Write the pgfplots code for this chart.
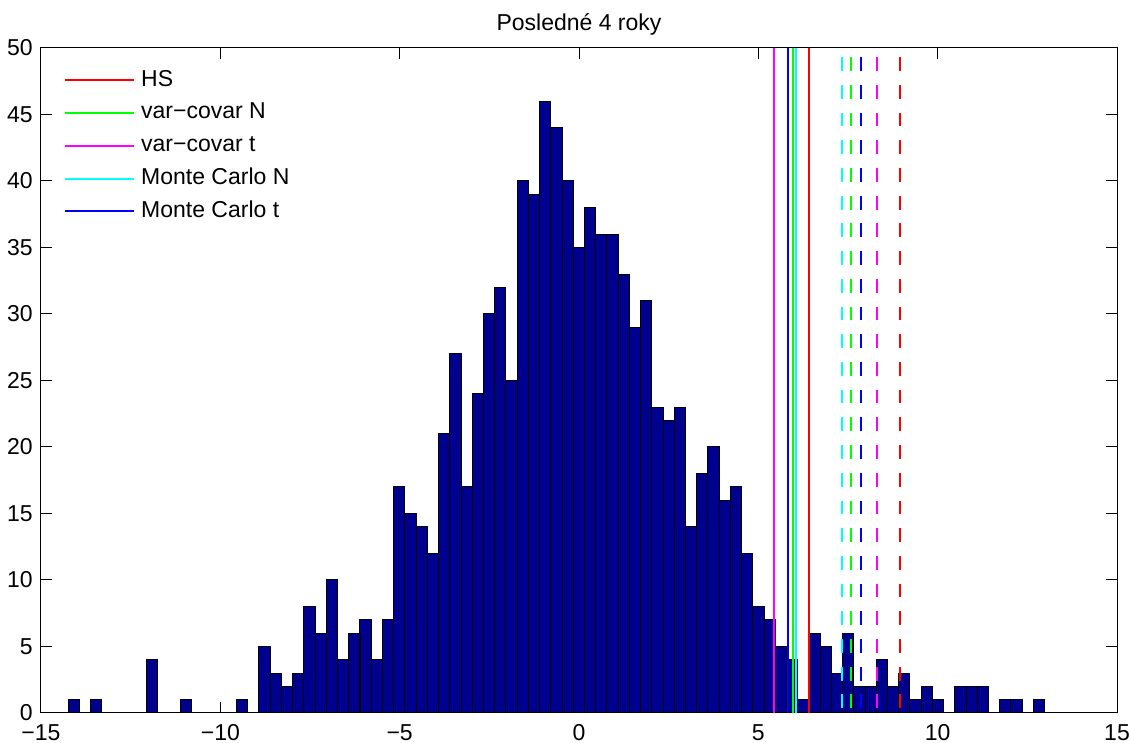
\documentclass[border=0pt]{standalone}
\usepackage{fontspec}
\setmainfont{Liberation Sans}
\usepackage{pgfplots}
\pgfplotsset{compat=1.18}
\definecolor{barblue}{rgb}{0,0,0.5608}
\definecolor{mred}{rgb}{1,0,0}
\definecolor{mgreen}{rgb}{0,1,0}
\definecolor{mmagenta}{rgb}{1,0,1}
\definecolor{mcyan}{rgb}{0,1,1}
\definecolor{mblue}{rgb}{0,0,1}
\begin{document}
\begin{tikzpicture}
\useasboundingbox (-20.5pt,-15pt) rectangle (544pt,356.5pt);
\begin{axis}[
  scale only axis, width=538pt, height=332.5pt,
  xmin=-15, xmax=15, ymin=0, ymax=50,
  xtick={-15,-10,-5,0,5,10,15},
  xticklabels={−15,−10,−5,0,5,10,15},
  ytick={0,5,10,15,20,25,30,35,40,45,50},
  yticklabels={0,5,10,15,20,25,30,35,40,45,50},
  tick align=inside, xtick pos=both, ytick pos=both,
  xticklabel pos=lower, yticklabel pos=left,
  major tick length=5.5pt,
  tick style={black, line width=0.5pt},
  axis line style={line width=0.5pt},
  font=\fontsize{11.5}{13.8}\selectfont,
  title={Posledné 4 roky},
  title style={at={(0.5,1)}, anchor=base, yshift=2.6pt, inner sep=0pt},
  xticklabel style={inner sep=0pt, yshift=-5.6pt},
  yticklabel style={inner sep=0pt, xshift=-4pt},
  legend style={at={(0,1)}, anchor=north west, xshift=11.5pt, yshift=-10.6pt,
    draw=none, fill=none, inner sep=0pt, row sep=5.7pt,
    nodes={inner sep=0pt, text height=8.3pt, text depth=2.4pt},
    /tikz/every odd column/.append style={column sep=2.9pt}},
  legend cell align=left,
  legend image code/.code={\draw[#1] (0pt,0pt) -- (34.5pt,0pt);},
]
\addplot[ybar, bar width=0.31291, fill=barblue, draw=black, line width=0.5pt, forget plot] coordinates {
(-14.085,1) (-13.772,0) (-13.459,1) (-13.147,0) (-12.834,0) (-12.521,0) (-12.208,0) (-11.895,4)
(-11.582,0) (-11.269,0) (-10.956,1) (-10.643,0) (-10.330,0) (-10.017,0) (-9.704,0) (-9.392,1)
(-9.079,0) (-8.766,5) (-8.453,3) (-8.140,2) (-7.827,3) (-7.514,8) (-7.201,6) (-6.888,10)
(-6.575,4) (-6.262,6) (-5.950,7) (-5.637,4) (-5.324,7) (-5.011,17) (-4.698,15) (-4.385,14)
(-4.072,12) (-3.759,21) (-3.446,27) (-3.133,17) (-2.820,24) (-2.507,30) (-2.195,32) (-1.882,25)
(-1.569,40) (-1.256,39) (-0.943,46) (-0.630,44) (-0.317,40) (-0.004,35) (0.309,38) (0.622,36)
(0.935,36) (1.248,33) (1.561,29) (1.874,31) (2.186,23) (2.499,22) (2.812,23) (3.125,14)
(3.438,18) (3.751,20) (4.064,16) (4.377,17) (4.690,12) (5.003,8) (5.316,7) (5.629,5)
(5.942,4) (6.255,1) (6.567,6) (6.880,5) (7.193,3) (7.506,6) (7.819,2) (8.132,2)
(8.445,4) (8.758,2) (9.071,3) (9.384,1) (9.697,2) (10.010,1) (10.322,0) (10.635,2)
(10.948,2) (11.261,2) (11.574,0) (11.887,1) (12.200,1) (12.513,0) (12.826,1)
};
\addplot[mred, line width=1pt] coordinates {(6.41,0) (6.41,50)};
\addplot[mgreen, line width=1pt] coordinates {(5.96,0) (5.96,50)};
\addplot[mmagenta, line width=1pt] coordinates {(5.43,0) (5.43,50)};
\addplot[mcyan, line width=1pt] coordinates {(6.06,0) (6.06,50)};
\addplot[mblue, line width=1pt] coordinates {(5.815,0) (5.815,50)};
\legend{HS, var−covar N, var−covar t, Monte Carlo N, Monte Carlo t}
\addplot[mcyan, line width=1pt, dash pattern=on 6.9pt off 6.95pt, dash phase=9.2pt, forget plot] coordinates {(7.33,50) (7.33,0)};
\addplot[mgreen, line width=1pt, dash pattern=on 6.9pt off 6.95pt, dash phase=9.2pt, forget plot] coordinates {(7.57,50) (7.57,0)};
\addplot[mblue, line width=1pt, dash pattern=on 6.9pt off 6.95pt, dash phase=9.2pt, forget plot] coordinates {(7.86,50) (7.86,0)};
\addplot[mmagenta, line width=1pt, dash pattern=on 6.9pt off 6.95pt, dash phase=9.2pt, forget plot] coordinates {(8.30,50) (8.30,0)};
\addplot[mred, line width=1pt, dash pattern=on 6.9pt off 6.95pt, dash phase=9.2pt, forget plot] coordinates {(8.94,50) (8.94,0)};
\end{axis}
\end{tikzpicture}
\end{document}
